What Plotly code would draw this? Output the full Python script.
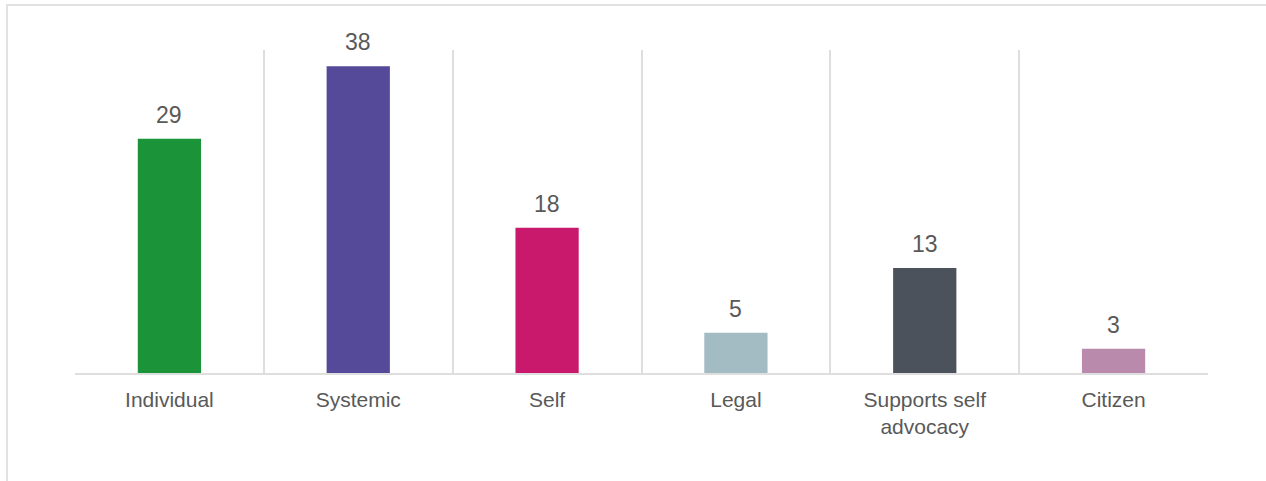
import plotly.graph_objects as go

categories = ["Individual", "Systemic", "Self", "Legal", "Supports self<br>advocacy", "Citizen"]
values = [29, 38, 18, 5, 13, 3]
colors = ["#1A9339", "#554A99", "#C8196D", "#A3BBC3", "#4B525B", "#B98AAB"]

W, H = 1266, 481
L, R, T, B = 75, 58, 50, 108
pw, ph = W - L - R, H - T - B

fig = go.Figure()
fig.add_trace(go.Bar(
    x=categories, y=values, marker=dict(color=colors, line=dict(width=0)),
    width=0.335, hoverinfo="x+y",
))

for c, v in zip(categories, values):
    fig.add_annotation(x=c, y=v, text=str(v), showarrow=False, yanchor="bottom",
                       yshift=9, font=dict(family="Liberation Sans, Arial", size=23, color="#595959"))

def px_x(p):
    return (p - L) / pw

def px_y(p):
    return (H - B - p) / ph

fig.add_shape(type="rect", xref="paper", yref="paper",
              x0=px_x(7), x1=px_x(W + 20), y0=px_y(H + 20), y1=px_y(5),
              line=dict(color="#e2e2e2", width=2), fillcolor="rgba(0,0,0,0)", layer="below")

fig.update_layout(
    width=W, height=H,
    margin=dict(l=L, r=R, t=T, b=B),
    paper_bgcolor="white", plot_bgcolor="white",
    showlegend=False,
    font=dict(family="Liberation Sans, Arial", size=21, color="#595959"),
    xaxis=dict(showgrid=True, gridcolor="#dedede", gridwidth=1.5, tickson="boundaries",
               ticks="", showline=True, linecolor="#dedede", linewidth=1.5,
               tickfont=dict(size=21, color="#595959"), ticklabelstandoff=7),
    yaxis=dict(range=[0, 40], showgrid=False, showticklabels=False, zeroline=False, showline=False),
)

fig.write_html("out.html", config={"displayModeBar": False},
               post_script="document.body.style.margin='0';")
